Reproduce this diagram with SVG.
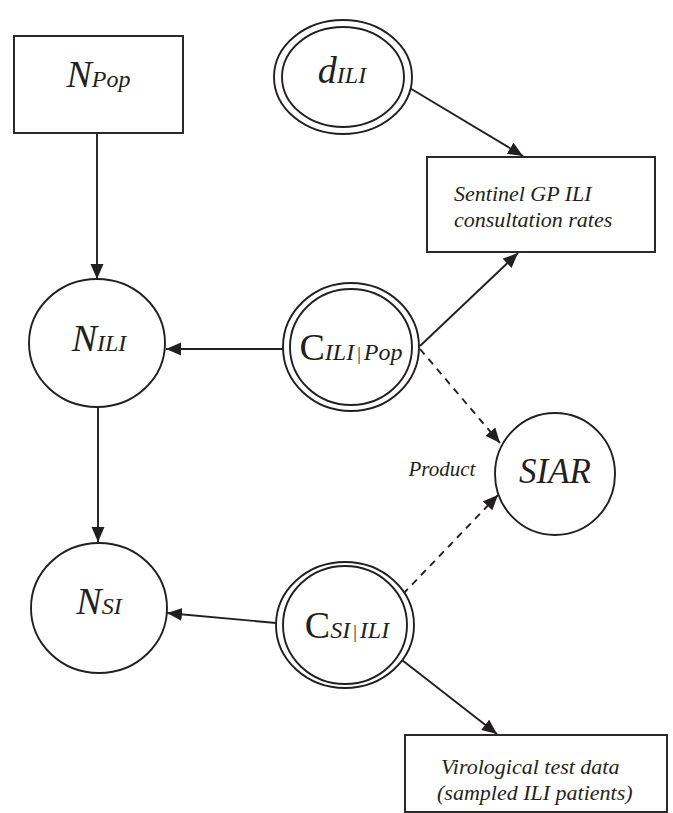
<svg xmlns="http://www.w3.org/2000/svg" width="673" height="813" viewBox="0 0 673 813">
<style>
.shape{fill:#fff;stroke:#231f20;stroke-width:1.9}
.edge{fill:none;stroke:#231f20;stroke-width:1.9}
.dash{stroke-dasharray:7,6}
.lbl{font-family:"Liberation Serif",serif;font-style:italic;fill:#231f20}
.big{font-size:38px}
.sub{font-size:24px}
.up{font-style:normal}
.box{font-size:22px}
</style>
<defs>
<marker id="arr" markerUnits="userSpaceOnUse" markerWidth="16" markerHeight="14" refX="15" refY="6.5" orient="auto">
<path d="M0,0 L15,6.5 L0,13 z" fill="#231f20" stroke="none"/>
</marker>
</defs>
<rect width="673" height="813" fill="#fff"/>
<g id="connectors">
<line class="edge" x1="97" y1="133" x2="97" y2="279" marker-end="url(#arr)"/>
<line class="edge" x1="283" y1="349" x2="166" y2="349" marker-end="url(#arr)"/>
<line class="edge" x1="98" y1="407" x2="98" y2="542" marker-end="url(#arr)"/>
<line class="edge" x1="276" y1="623" x2="167" y2="613" marker-end="url(#arr)"/>
<line class="edge" x1="408" y1="87" x2="523" y2="156" marker-end="url(#arr)"/>
<line class="edge" x1="420" y1="346" x2="518" y2="253" marker-end="url(#arr)"/>
<line class="edge dash" x1="420" y1="349" x2="500" y2="443" marker-end="url(#arr)"/>
<line class="edge dash" x1="403" y1="594" x2="498" y2="495" marker-end="url(#arr)"/>
<line class="edge" x1="402" y1="660" x2="497" y2="734" marker-end="url(#arr)"/>
<text class="lbl" x="442" y="476" text-anchor="middle" font-size="21">Product</text>
</g>
<g id="NPop">
<rect class="shape" x="14" y="36" width="169" height="97"/>
<text class="lbl" x="98.5" y="87" text-anchor="middle"><tspan class="big">N</tspan><tspan class="sub" font-size="22">Pop</tspan></text>
</g>
<g id="dILI">
<ellipse class="shape" cx="343" cy="77" rx="69" ry="57"/>
<ellipse class="shape" cx="343" cy="77" rx="61" ry="50"/>
<text class="lbl" x="342" y="83" text-anchor="middle"><tspan class="big">d</tspan><tspan class="sub">ILI</tspan></text>
</g>
<g id="Sentinel">
<rect class="shape" x="427" y="157" width="228" height="95"/>
<text class="lbl box" x="454" y="201">Sentinel GP ILI</text>
<text class="lbl box" x="454" y="227">consultation rates</text>
</g>
<g id="NILI">
<ellipse class="shape" cx="97" cy="343" rx="68" ry="64"/>
<text class="lbl" x="99" y="351" text-anchor="middle"><tspan class="big">N</tspan><tspan class="sub">ILI</tspan></text>
</g>
<g id="CILIPop">
<ellipse class="shape" cx="351" cy="347" rx="68" ry="64"/>
<ellipse class="shape" cx="351" cy="347" rx="61" ry="58"/>
<text class="lbl" x="351" y="360" text-anchor="middle"><tspan class="big up">C</tspan><tspan class="sub">ILI</tspan><tspan class="up" font-size="18" dx="3">|</tspan><tspan class="sub" font-size="23" dx="3">Pop</tspan></text>
</g>
<g id="SIAR">
<ellipse class="shape" cx="555" cy="474" rx="60" ry="61"/>
<text class="lbl" x="555" y="483" text-anchor="middle" font-size="35">SIAR</text>
</g>
<g id="NSI">
<ellipse class="shape" cx="99" cy="608" rx="68" ry="65"/>
<text class="lbl" x="99" y="614" text-anchor="middle"><tspan class="big">N</tspan><tspan class="sub">SI</tspan></text>
</g>
<g id="CSIILI">
<ellipse class="shape" cx="345" cy="625" rx="69" ry="63"/>
<ellipse class="shape" cx="345" cy="625" rx="62" ry="59"/>
<text class="lbl" x="347" y="638" text-anchor="middle"><tspan class="big up">C</tspan><tspan class="sub">SI</tspan><tspan class="up" font-size="18" dx="3">|</tspan><tspan class="sub" dx="3">ILI</tspan></text>
</g>
<g id="Virological">
<rect class="shape" x="405" y="735" width="262" height="77"/>
<text class="lbl box" x="441" y="774">Virological test data</text>
<text class="lbl box" x="437" y="800">(sampled ILI patients)</text>
</g>
</svg>
